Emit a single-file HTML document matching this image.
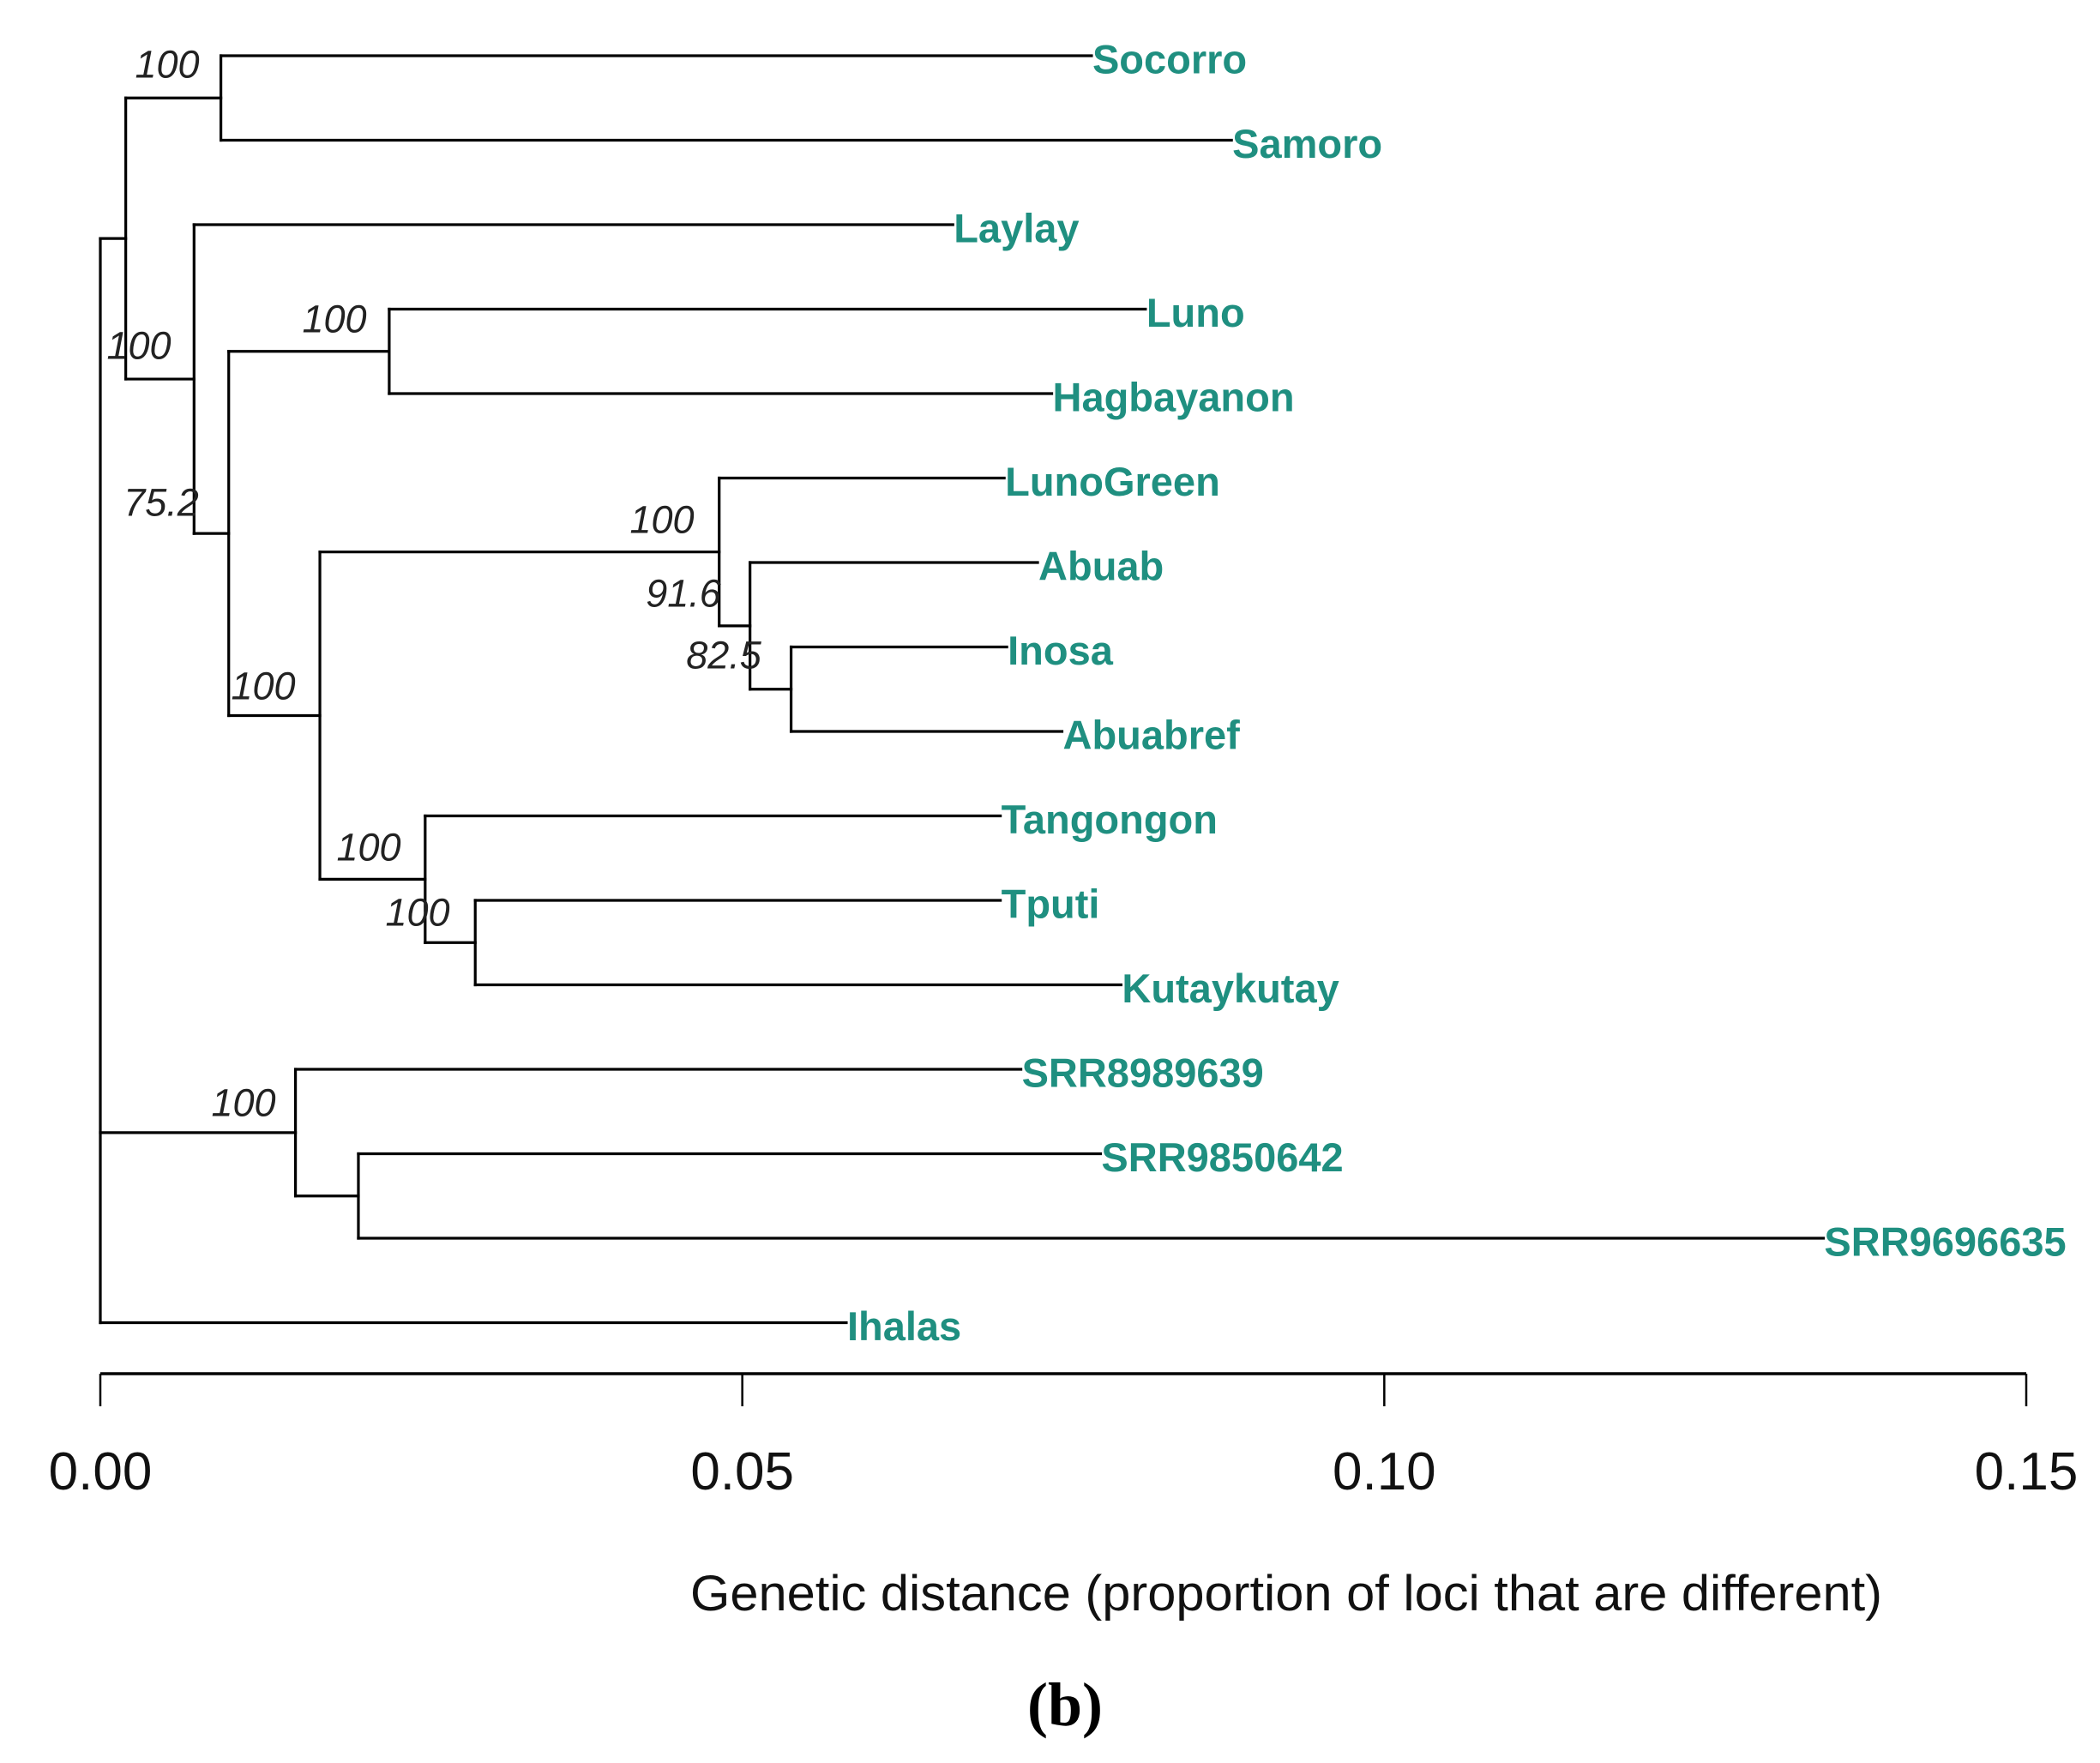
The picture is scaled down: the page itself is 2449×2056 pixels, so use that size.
<!DOCTYPE html>
<html><head><meta charset="utf-8"><style>
html,body{margin:0;padding:0;background:#fff;}
svg{display:block;}
</style></head><body>
<svg id="chart" width="2449" height="2056" viewBox="0 0 2449 2056" xmlns="http://www.w3.org/2000/svg">
<g id="branches"></g>
<g id="tips"></g>
<g id="boot"></g>
<g id="axis"></g>
<text x="1500" y="1878" font-family="Liberation Sans, sans-serif" font-size="58" text-anchor="middle" textLength="1390" lengthAdjust="spacingAndGlyphs" fill="#111">Genetic distance (proportion of loci that are different)</text>
<text x="1242" y="2012" font-family="Liberation Serif, serif" font-size="72" font-weight="bold" text-anchor="middle" fill="#000">(b)</text>
</svg>
<script>
// Tip labels (top to bottom) and tip distances
const tipNames = ["Socorro","Samoro","Laylay","Luno","Hagbayanon","LunoGreen","Abuab","Inosa","Abuabref","Tangongon","Tputi","Kutaykutay","SRR8989639","SRR9850642","SRR9696635","Ihalas"];
const tipDist = [0.0772,0.0881,0.0664,0.0814,0.0741,0.0704,0.0730,0.0706,0.0749,0.0701,0.0701,0.0795,0.0717,0.0779,0.1342,0.0581];
// Internal nodes: id, distance, children (tips as "t<i>", nodes as "n<id>")
const nodeIds = ["root","A","SS","B","C","LH","D","LG","AB","IA","T","TK","S","S2"];
const nodeDist = [0,0.00198,0.00939,0.0073,0.0100,0.0225,0.0171,0.0482,0.0506,0.0538,0.0253,0.0292,0.0152,0.0201];
const nodeChildren = [["nA","nS","t15"],["nSS","nB"],["t0","t1"],["t2","nC"],["nLH","nD"],["t3","t4"],["nLG","nT"],["t5","nAB"],["t6","nIA"],["t7","t8"],["t9","nTK"],["t10","t11"],["t12","nS2"],["t13","t14"]];
// Bootstrap support values
const bootValues = ["100","100","75.2","100","100","100","91.6","82.5","100","100","100"];
const bootPos = [[195,75],[162,403],[188,586],[390,372],[307,800],[772,606],[797,692],[844,764],[430,988],[487,1064],[284,1286]];
const ticks = [0,0.05,0.10,0.15];
const tickLabels = ["0.00","0.05","0.10","0.15"];

const NS="http://www.w3.org/2000/svg";
const x0=117, xScale=2246/0.15;
const X=d=>x0+d*xScale;
const Y=i=>65+i*98.5;
function mk(tag,attrs,parent){const e=document.createElementNS(NS,tag);for(const k in attrs)e.setAttribute(k,attrs[k]);parent.appendChild(e);return e;}
const gB=document.getElementById('branches'),gT=document.getElementById('tips'),gBo=document.getElementById('boot'),gA=document.getElementById('axis');
const stroke={stroke:"#000","stroke-width":3.2,fill:"none","stroke-linecap":"square"};
function pos(ref){
  if(ref[0]==='t'){const i=+ref.slice(1);return {x:X(tipDist[i]),y:Y(i)};}
  const k=nodeIds.indexOf(ref.slice(1));
  const ys=nodeChildren[k].map(c=>pos(c).y);
  return {x:X(nodeDist[k]),y:(Math.min(...ys)+Math.max(...ys))/2};
}
nodeIds.forEach((id,k)=>{
  const p=pos('n'+id);
  const cs=nodeChildren[k].map(pos);
  const ys=cs.map(c=>c.y);
  const v=mk('line',Object.assign({x1:p.x,x2:p.x,y1:Math.min(...ys),y2:Math.max(...ys)},stroke),gB);
  
  
  cs.forEach((c,j)=>{
    const h=mk('line',Object.assign({x1:p.x,x2:c.x,y1:c.y,y2:c.y},stroke),gB);
    
    
  });
});
tipNames.forEach((n,i)=>{
  const t=mk('text',{x:X(tipDist[i])+1,y:Y(i)+4,"dominant-baseline":"central","font-family":"Liberation Sans, sans-serif","font-size":47,"font-weight":"bold",fill:"#1f8f80"},gT);
  t.textContent=n;
  
  
});
bootValues.forEach((v,i)=>{
  const t=mk('text',{x:bootPos[i][0],y:bootPos[i][1],"text-anchor":"middle","dominant-baseline":"central","font-family":"Liberation Sans, sans-serif","font-size":45,"font-style":"italic",fill:"#222"},gBo);
  t.textContent=v;
  
  
});
const ay=1602;
const al=mk('line',{x1:X(ticks[0]),x2:X(ticks[ticks.length-1]),y1:ay,y2:ay,stroke:"#000","stroke-width":3.5},gA);


ticks.forEach((v,i)=>{
  const l=mk('line',{x1:X(v),x2:X(v),y1:ay,y2:ay+38,stroke:"#000","stroke-width":2.5},gA);
  
  
  const t=mk('text',{x:X(v),y:1737,"text-anchor":"middle","font-family":"Liberation Sans, sans-serif","font-size":62,fill:"#111"},gA);
  t.textContent=tickLabels[i];
  
  
});
</script>
</body></html>
